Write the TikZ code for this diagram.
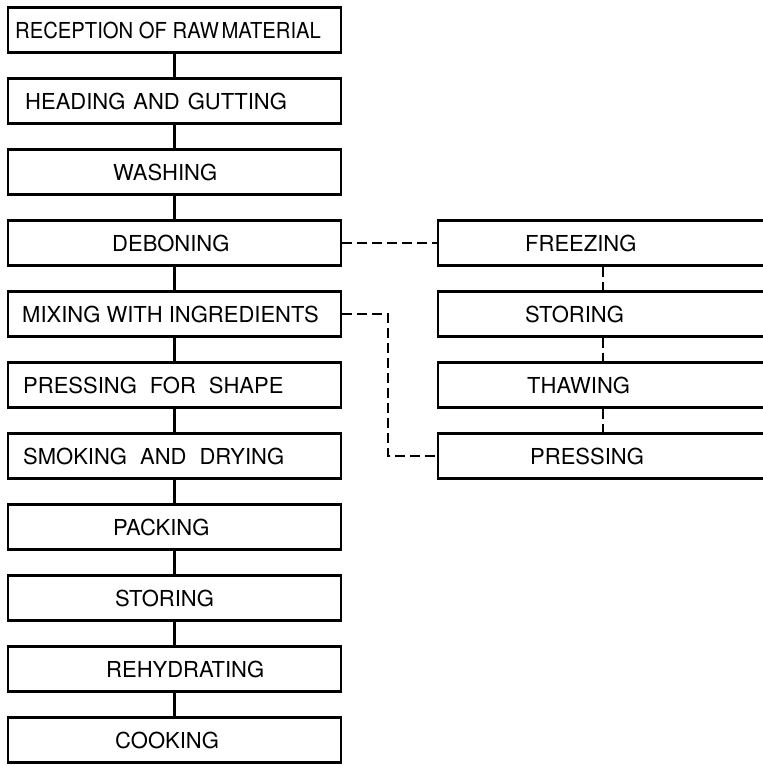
\documentclass[tikz,border=0pt]{standalone}
\usepackage{fontspec}
\setmainfont{TeX Gyre Heros}
\begin{document}
\begin{tikzpicture}[x=1pt,y=-1pt,
  box/.style={draw, line width=2.6pt, minimum width=333pt, minimum height=45pt, inner sep=0pt},
  rbox/.style={draw, line width=2.6pt, minimum width=345pt, minimum height=45pt, inner sep=0pt},
  lbl/.style={anchor=west, inner sep=0pt, text depth=0pt, font=\fontsize{22}{26}\selectfont},
  solidline/.style={line width=2.4pt},
  dashline/.style={line width=2.4pt, dash pattern=on 10pt off 5pt}]
\useasboundingbox (0,0) rectangle (763,766);
\clip (0,0) rectangle (763,766);
% left column boxes
\node[box] (b1) at (174.5,30) {};
\node[box] (b2) at (174.5,101) {};
\node[box] (b3) at (174.5,172) {};
\node[box] (b4) at (174.5,243) {};
\node[box] (b5) at (174.5,314) {};
\node[box] (b6) at (174.5,385) {};
\node[box] (b7) at (174.5,456) {};
\node[box] (b8) at (174.5,527) {};
\node[box] (b9) at (174.5,598) {};
\node[box] (b10) at (174.5,669) {};
\node[box] (b11) at (174.5,740) {};
% right column boxes
\node[rbox] (r1) at (610.5,243) {};
\node[rbox] (r2) at (610.5,314) {};
\node[rbox] (r3) at (610.5,385) {};
\node[rbox] (r4) at (610.5,456) {};
% labels
\node[lbl] (t1) at (15,30) {\scalebox{0.92}[1]{RECEPTION OF RAW\hspace{3pt}MATERIAL}};
\node[lbl] (t2) at (25,101) {HEADING\hspace{8pt}AND\hspace{8pt}GUTTING};
\node[lbl] (t3) at (113,172) {WASHING};
\node[lbl] (t4) at (112,243) {DEBONING};
\node[lbl] (t5) at (22,314) {MIXING WITH INGREDIENTS};
\node[lbl] (t6) at (23,385) {PRESSING\hspace{13pt}FOR\hspace{13pt}SHAPE};
\node[lbl] (t7) at (23,456) {SMOKING\hspace{13pt}AND\hspace{13pt}DRYING};
\node[lbl] (t8) at (113,527) {PACKING};
\node[lbl] (t9) at (115,598) {STORING};
\node[lbl] (t10) at (106,669) {REHYDRATING};
\node[lbl] (t11) at (115,740) {COOKING};
\node[lbl] (u1) at (525,243) {FREEZING};
\node[lbl] (u2) at (525,314) {STORING};
\node[lbl] (u3) at (527,385) {THAWING};
\node[lbl] (u4) at (530,456) {PRESSING};
% solid connectors
\draw[solidline] (b1) -- (b2);
\draw[solidline] (b2) -- (b3);
\draw[solidline] (b3) -- (b4);
\draw[solidline] (b4) -- (b5);
\draw[solidline] (b5) -- (b6);
\draw[solidline] (b6) -- (b7);
\draw[solidline] (b7) -- (b8);
\draw[solidline] (b8) -- (b9);
\draw[solidline] (b9) -- (b10);
\draw[solidline] (b10) -- (b11);
% dashed connectors
\coordinate (xr) at (603,0);
\coordinate (xm) at (388,385);
\draw[dashline] (b4) -- (r1);
\draw[dashline] (r1.south -| xr) -- (r2.north -| xr);
\draw[dashline] (r2.south -| xr) -- (r3.north -| xr);
\draw[dashline] (r3.south -| xr) -- (r4.north -| xr);
\draw[dashline] (b5.east) -| (xm) |- (r4.west);
\end{tikzpicture}
\end{document}
